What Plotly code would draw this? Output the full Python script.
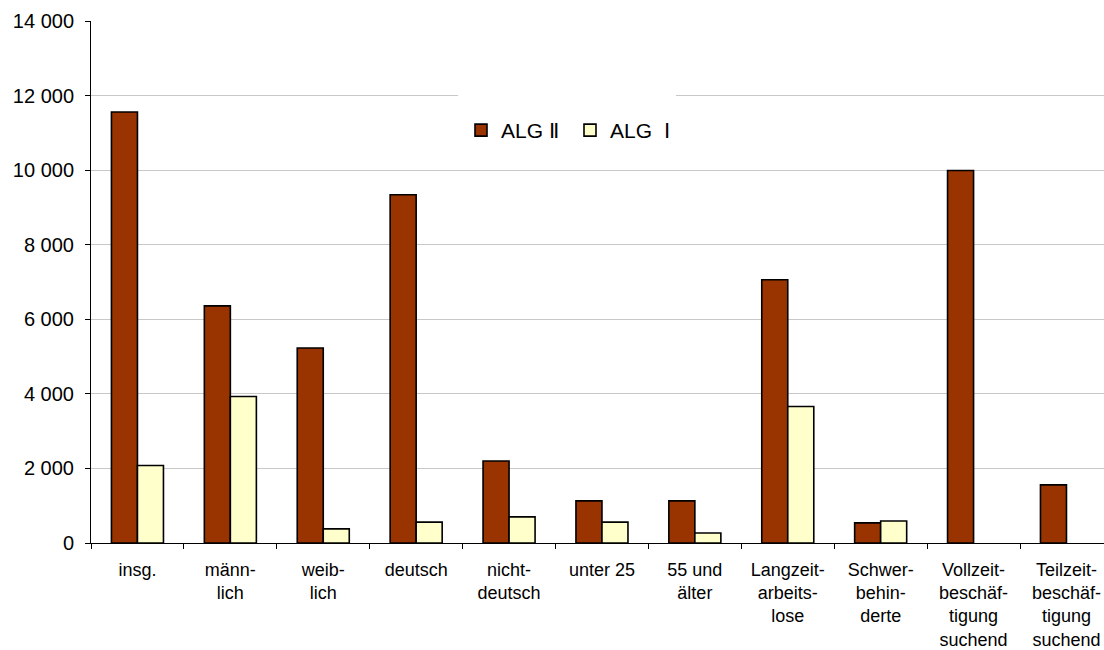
import plotly.graph_objects as go

categories = ["insg.", "männ-<br>lich", "weib-<br>lich", "deutsch", "nicht-<br>deutsch",
              "unter 25", "55 und<br>älter", "Langzeit-<br>arbeits-<br>lose",
              "Schwer-<br>behin-<br>derte", "Vollzeit-<br>beschäf-<br>tigung<br>suchend",
              "Teilzeit-<br>beschäf-<br>tigung<br>suchend"]
alg2 = [11560, 6360, 5230, 9340, 2200, 1130, 1130, 7060, 540, 9990, 1560]
alg1 = [2080, 3930, 380, 560, 700, 560, 270, 3660, 590, 0, 0]
series_names = ["ALG Ⅱ", "ALG  Ⅰ"]

FONT = "Liberation Sans, Arial, sans-serif"

fig = go.Figure()
fig.add_trace(go.Bar(x=categories, y=alg2, name=series_names[0],
                     marker=dict(color="#993300",
                                 line=dict(color="black", width=[1.6 if v > 0 else 0 for v in alg2]))))
fig.add_trace(go.Bar(x=categories, y=alg1, name=series_names[1],
                     marker=dict(color="#FFFFCC",
                                 line=dict(color="black", width=[1.6 if v > 0 else 0 for v in alg1]))))

# white patch behind legend interrupting gridline (as in reference)
fig.add_shape(type="rect", xref="paper", yref="paper",
              x0=(458 - 91) / 1013, x1=(676 - 91) / 1013,
              y0=(543 - 165) / 522, y1=(543 - 93) / 522,
              fillcolor="white", line=dict(width=0), layer="above")

fig.update_layout(
    width=1104, height=650,
    margin=dict(l=91, r=0, t=21, b=107, autoexpand=False),
    plot_bgcolor="white", paper_bgcolor="white",
    barmode="group", bargap=0.44, bargroupgap=0,
    separators=", ",
    font=dict(family=FONT, size=17, color="black"),
    showlegend=True,
    legend=dict(orientation="h", x=(461 - 91) / 1013, y=(543 - 110) / 522,
                xanchor="left", yanchor="top", bgcolor="rgba(0,0,0,0)",
                font=dict(family=FONT, size=21, color="black"),
                traceorder="normal", entrywidth=64, entrywidthmode="pixels"),
    xaxis=dict(range=[-0.5, 10.404], showline=True, linecolor="black", linewidth=1,
               ticks="outside", ticklen=5, tickcolor="black", tickson="boundaries",
               tickfont=dict(family=FONT, size=18, color="black"),
               showgrid=False, zeroline=False, tickangle=0, automargin=False,
               ticklabelstandoff=10),
    yaxis=dict(range=[0, 14000], dtick=2000, tickformat=",d",
               showline=True, linecolor="black", linewidth=1,
               ticks="outside", ticklen=5, tickcolor="black",
               tickfont=dict(family=FONT, size=20, color="black"),
               showgrid=True, gridcolor="#c8c8c8", gridwidth=1,
               zeroline=False, ticklabelstandoff=7, automargin=False),
)

fig.write_html("out.html", config={"displayModeBar": False},
               post_script="document.body.style.margin='0';")
